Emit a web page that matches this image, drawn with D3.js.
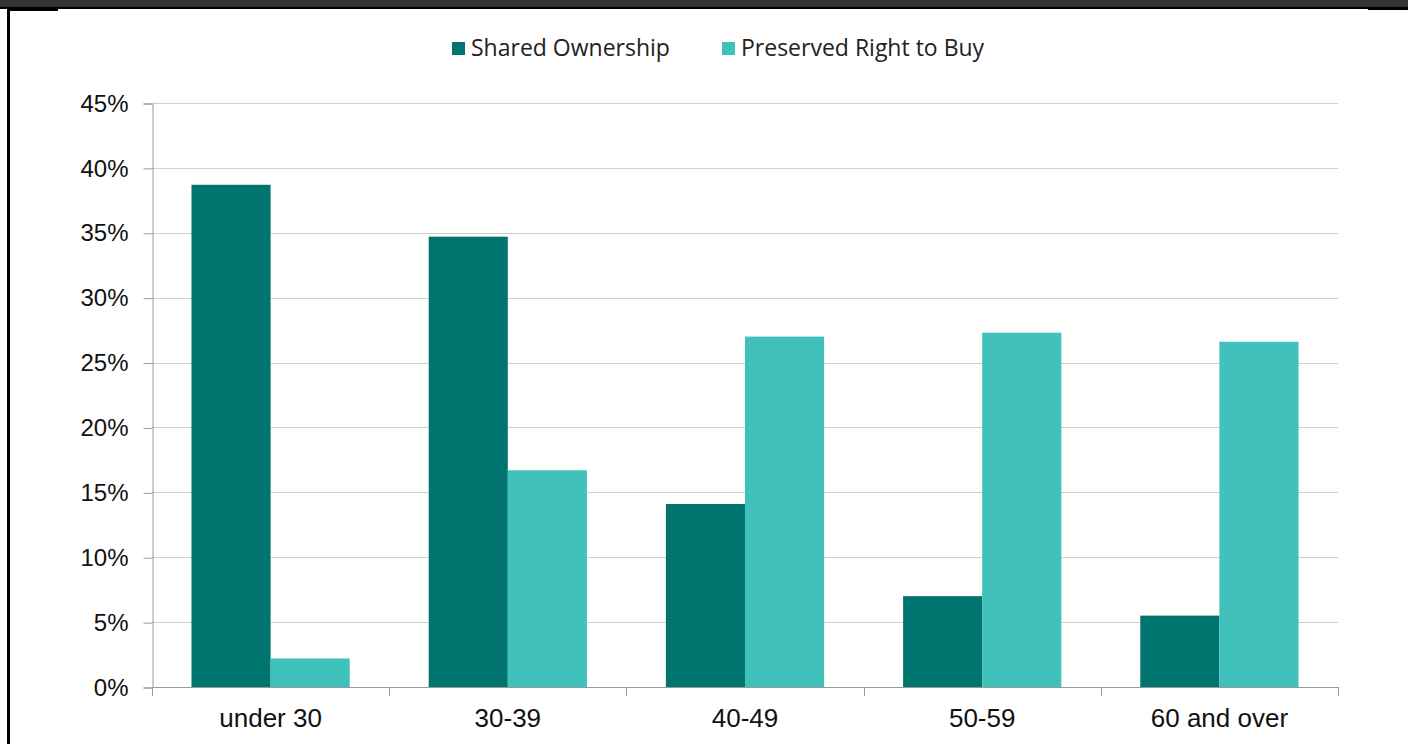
<!DOCTYPE html>
<html>
<head>
<meta charset="utf-8">
<script src="https://cdn.jsdelivr.net/npm/d3@7"></script>
<style>
body { margin: 0; background: #fff; }
svg text { font-family: "Liberation Sans", Arial, sans-serif; }
</style>
</head>
<body>
<script>
var categories = ['under 30', '30-39', '40-49', '50-59', '60 and over'];
var seriesNames = ['Shared Ownership', 'Preserved Right to Buy'];
var sharedOwnership = [38.7, 34.7, 14.1, 7.0, 5.5];
var preservedRtb = [2.2, 16.7, 27.0, 27.3, 26.6];
var yTicks = [0, 5, 10, 15, 20, 25, 30, 35, 40, 45];
var colors = ['#007570', '#40c1bb'];

function draw() {
var W = 1408, H = 744;
var svg = d3.select('body').append('svg')
    .attr('width', W)
    .attr('height', H);

// frame bits left over from the cropped page
svg.append('rect').attr('x', 0).attr('y', 0).attr('width', W).attr('height', 7).attr('fill', '#333');
svg.append('rect').attr('x', 0).attr('y', 7).attr('width', W).attr('height', 2).attr('fill', '#000');
svg.append('rect').attr('x', 7).attr('y', 7).attr('width', 3).attr('height', H).attr('fill', '#000');
svg.append('rect').attr('x', 7).attr('y', 9).attr('width', 51).attr('height', 2).attr('fill', '#000');
svg.append('rect').attr('x', 1368).attr('y', 9).attr('width', 40).attr('height', 1).attr('fill', '#000');

var mLeft = 152, mRight = 1338, mTop = 103, mBottom = 687;

var x0 = d3.scaleBand().domain(categories).range([mLeft, mRight]).paddingInner(0.333).paddingOuter(0.1665);
var x1 = d3.scaleBand().domain([0, 1]).range([0, x0.bandwidth()]);
var y = d3.scaleLinear().domain([0, 45]).range([mBottom, mTop]);

// gridlines
svg.append('g').selectAll('line')
    .data(yTicks.slice(1))
    .enter().append('line')
    .attr('x1', mLeft).attr('x2', mRight)
    .attr('y1', function(d) { return Math.round(y(d)) + 0.5; })
    .attr('y2', function(d) { return Math.round(y(d)) + 0.5; })
    .attr('stroke', '#cfcfcf')
    .attr('stroke-width', 1);

// bars
var groups = svg.append('g').selectAll('g')
    .data(categories)
    .enter().append('g')
    .attr('transform', function(d) { return 'translate(' + x0(d) + ',0)'; });

groups.selectAll('rect')
    .data(function(d, i) { return [sharedOwnership[i], preservedRtb[i]]; })
    .enter().append('rect')
    .attr('x', function(d, j) { return x1(j); })
    .attr('width', x1.bandwidth())
    .attr('y', function(d) { return y(d); })
    .attr('height', function(d) { return mBottom - y(d); })
    .attr('fill', function(d, j) { return colors[j]; });

// y axis
var yAxis = svg.append('g')
    .attr('transform', 'translate(' + (mLeft + 0.5) + ',0.5)')
    .call(d3.axisLeft(y).tickValues(yTicks).tickSize(9).tickPadding(15)
        .tickFormat(function(d) { return d + '%'; }));
yAxis.selectAll('line, path').attr('stroke', '#999');
yAxis.selectAll('text').attr('font-size', 24).attr('fill', '#111')
    .attr('font-family', '"Liberation Sans", Arial, sans-serif');

// x axis: ticks at band edges
var xBase = svg.append('g').attr('class', 'xaxis');
xBase.append('line')
    .attr('x1', mLeft).attr('x2', mRight + 0.5)
    .attr('y1', mBottom + 0.5).attr('y2', mBottom + 0.5)
    .attr('stroke', '#999');
var edges = categories.map(function(c) { return x0(c) - x0.step() * x0.paddingInner() / 2; });
edges.push(mRight);
xBase.selectAll('.edge')
    .data(edges)
    .enter().append('line')
    .attr('class', 'edge')
    .attr('x1', function(d) { return Math.round(d) + 0.5; })
    .attr('x2', function(d) { return Math.round(d) + 0.5; })
    .attr('y1', mBottom).attr('y2', mBottom + 9)
    .attr('stroke', '#999');
xBase.selectAll('.lab')
    .data(categories)
    .enter().append('text')
    .attr('class', 'lab')
    .attr('x', function(d) { return x0(d) + x0.bandwidth() / 2; })
    .attr('y', 727)
    .attr('text-anchor', 'middle')
    .attr('font-size', 26)
    .attr('fill', '#111')
    .text(function(d) { return d; });

// legend
var legendValues = [
    {'value': seriesNames[0], 'color': colors[0], 'x': 452},
    {'value': seriesNames[1], 'color': colors[1], 'x': 722}
];
var legend = svg.selectAll('.legend')
    .data(legendValues)
    .enter().append('g')
    .attr('class', 'legend')
    .attr('transform', function(d) { return 'translate(' + d.x + ',42)'; });
legend.append('rect')
    .attr('width', 13).attr('height', 13)
    .attr('fill', function(d) { return d.color; });
legend.append('text')
    .attr('x', 19).attr('y', 14)
    .attr('font-size', 23)
    .attr('fill', '#222')
    .style('font-family', '"Open Sans", "Noto Sans", sans-serif')
    .text(function(d) { return d.value; });
}
draw();
</script>
</body>
</html>
